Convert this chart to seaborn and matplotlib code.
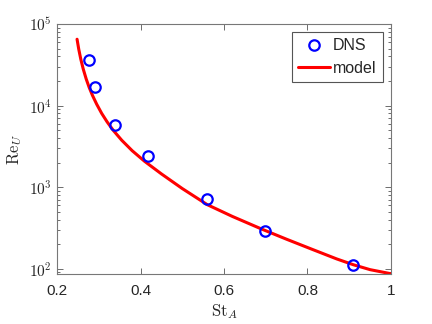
import matplotlib
matplotlib.use("Agg")
import matplotlib.pyplot as plt
import matplotlib.ticker as mticker
import pandas as pd
import seaborn as sns

# DNS points (St_A, Re_U)
dns_st = [0.277, 0.290, 0.339, 0.419, 0.560, 0.699, 0.910]
dns_re = [35900, 17100, 5780, 2430, 723, 288, 110]

# model curve at several St_A values
model_st = [0.248, 0.252, 0.257, 0.263, 0.270, 0.277, 0.285, 0.295, 0.307,
            0.320, 0.335, 0.355, 0.380, 0.410, 0.450, 0.500, 0.560, 0.620,
            0.690, 0.750, 0.810, 0.870, 0.910, 0.950, 1.000]
model_re = [65000, 49200, 36900, 27800, 21100, 16700, 13300, 10400, 8020,
            6310, 4950, 3760, 2800, 2070, 1455, 962, 610, 438,
            307, 230, 174, 132, 112, 97.5, 86.9]

x_ticks = [0.2, 0.4, 0.6, 0.8, 1.0]
x_labels = ["0.2", "0.4", "0.6", "0.8", "1"]
y_ticks = [1e2, 1e3, 1e4, 1e5]
y_labels = [r"$\mathsf{10^{2}}$", r"$\mathsf{10^{3}}$", r"$\mathsf{10^{4}}$", r"$\mathsf{10^{5}}$"]

sns.set_theme(style="ticks")
plt.rcParams["font.family"] = ["Liberation Sans", "DejaVu Sans"]
plt.rcParams["mathtext.fontset"] = "cm"

dns = pd.DataFrame({"St": dns_st, "Re": dns_re})
model = pd.DataFrame({"St": model_st, "Re": model_re})

fig = plt.figure(figsize=(4.32, 3.24), dpi=100)
ax = fig.add_axes([0.132, 0.154, 0.773, 0.772])

sns.lineplot(data=model, x="St", y="Re", ax=ax, color="#ff0000", lw=2.2,
             label="model", zorder=2, sort=True)
ax.plot(dns["St"], dns["Re"], "o", mfc="none", mec="#0000ff", mew=1.6,
        ms=7.5, label="DNS", zorder=3)

ax.set_yscale("log")
ax.set_xlim(0.2, 1.0)
ax.set_ylim(86, 1e5)
ax.set_xticks(x_ticks)
ax.set_xticklabels(x_labels)
ax.set_yticks(y_ticks)
ax.set_yticklabels(y_labels)
ax.yaxis.set_minor_locator(mticker.LogLocator(base=10, subs=range(2, 10)))
ax.yaxis.set_minor_formatter(mticker.NullFormatter())
ax.xaxis.set_minor_locator(mticker.NullLocator())

ax.tick_params(which="both", direction="in", top=True, right=True,
               colors="#555555", labelcolor="#262626", labelsize=11, width=0.6)
ax.tick_params(which="major", length=4)
ax.tick_params(which="minor", length=2)
ax.tick_params(axis="x", pad=7)
for s in ax.spines.values():
    s.set_color("#777777")
    s.set_linewidth(0.8)

ax.set_xlabel(r"$\mathrm{St}_A$", fontsize=12, color="#262626", labelpad=3)
ax.set_ylabel(r"$\mathrm{Re}_U$", fontsize=12, color="#262626", labelpad=4)

handles, labels = ax.get_legend_handles_labels()
order = [labels.index("DNS"), labels.index("model")]
leg = ax.legend([handles[i] for i in order], [labels[i] for i in order],
                loc="upper right", fontsize=11.5, fancybox=False, framealpha=1,
                edgecolor="#555555", handlelength=2.0, handletextpad=0.2,
                borderpad=0.4, labelspacing=0.45, borderaxespad=0.5)
leg.get_frame().set_linewidth(0.8)

fig.savefig("out.png", dpi=100)
